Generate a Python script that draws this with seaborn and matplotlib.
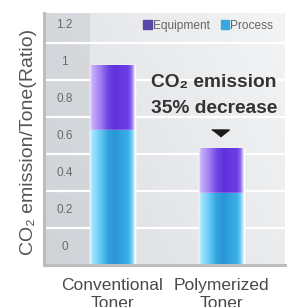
import numpy as np
import pandas as pd
import matplotlib
matplotlib.use("Agg")
import matplotlib.pyplot as plt
import matplotlib.transforms as mtransforms
from matplotlib.colors import LinearSegmentedColormap, to_rgb
from matplotlib.patches import Patch
import seaborn as sns

# values
categories = ["Conventional\nToner", "Polymerized\nToner"]
process = [0.73, 0.39]
equipment = [0.35, 0.24]
totals = [p + e for p, e in zip(process, equipment)]
y_values = [0, 0.2, 0.4, 0.6, 0.8, 1.0, 1.2]
y_labels = ["0", "0.2", "0.4", "0.6", "0.8", "1", "1.2"]
note_lines = ["CO₂ emission", "35% decrease"]

sns.set_style("white")
plt.rcParams['font.family'] = ['Liberation Sans', 'DejaVu Sans']

fig = plt.figure(figsize=(2.91, 3.07), dpi=100)
ax = fig.add_axes([44 / 291, 42 / 307, 241 / 291, 252 / 307])

df = pd.DataFrame({"cat": categories, "process": process, "total": totals})

# stacked look: totals first (equipment colour), process drawn over
sns.barplot(data=df, x="cat", y="total", color="#6633dd", saturation=1,
            width=0.41, errorbar=None, zorder=2, ax=ax)
n_eq = len(ax.patches)
sns.barplot(data=df, x="cat", y="process", color="#33aae6", saturation=1,
            width=0.41, errorbar=None, zorder=3, ax=ax)

purple = LinearSegmentedColormap.from_list("eq", [
    (0, "#efe6ff"), (0.04, "#c8b0fa"), (0.22, "#a282f3"), (0.4, "#7046e5"),
    (0.55, "#6130dc"), (0.85, "#6b3ee5"), (0.93, "#8d6bee"), (1, "#f0eaff")])
blue = LinearSegmentedColormap.from_list("pr", [
    (0, "#e2f7ff"), (0.04, "#a8e6fb"), (0.22, "#66cbf4"), (0.4, "#31a2de"),
    (0.55, "#2a96d5"), (0.85, "#3ab0ea"), (0.93, "#6dcbf3"), (1, "#e4f7ff")])
grad = np.linspace(0, 1, 200).reshape(1, -1)
for i, bar in enumerate(list(ax.patches)):
    cmap = purple if i < n_eq else blue
    x0, y0 = bar.get_x(), bar.get_y()
    w, h = bar.get_width(), bar.get_height()
    im = ax.imshow(grad, cmap=cmap, extent=[x0, x0 + w, y0, y0 + h],
                   aspect='auto', interpolation='bilinear',
                   zorder=bar.get_zorder() + 0.1)
    im.set_clip_path(bar)

# panel background
xx, yy = np.meshgrid(np.linspace(0, 1, 100), np.linspace(0, 1, 100))
t = (0.65 * xx + 0.35 * yy)[..., None]
c0, c1 = np.array(to_rgb("#dadde1")), np.array(to_rgb("#f3f4f5"))
ax.imshow(c0 + (c1 - c0) * t, extent=[0, 1, 0, 1], transform=ax.transAxes,
          origin='lower', aspect='auto', zorder=0)
ax.axvspan(-1, -0.207, color="#c4c8cd", alpha=0.45, lw=0, zorder=0.5)

for v in y_values[1:]:
    ax.axhline(v, color="white", lw=1.6, zorder=1)

trans = mtransforms.blended_transform_factory(ax.transAxes, ax.transData)
for v, lab in zip(y_values, y_labels):
    ax.text(0.085, v + 0.095, lab, transform=trans, ha='center', va='center',
            fontsize=8.5, color="#6a6a6a", zorder=5)

# callout over the polymerized bar
ax.text(0.93, totals[1] + 0.357, note_lines[0], ha='center', va='center',
        fontsize=13.8, fontweight='bold', color="#333333", zorder=5)
ax.text(0.93, totals[1] + 0.215, note_lines[1], ha='center', va='center',
        fontsize=13.8, fontweight='bold', color="#333333", zorder=5)
tri = [(-1, 0.4), (1, 0.4), (0, -0.4)]
ax.plot([0.99], [totals[1] + 0.085], marker=tri, ms=12.6, color="#1a1a1a",
        lw=0, zorder=5)

handles = [Patch(color="#5a46a8", label="Equipment"),
           Patch(color="#3aa8e0", label="Process")]
ax.legend(handles=handles, loc='center right', bbox_to_anchor=(0.95, 0.9496),
          ncol=2, frameon=False, fontsize=8.6, handlelength=0.75,
          handleheight=0.75, handletextpad=0.05, columnspacing=0.9,
          borderpad=0, borderaxespad=0, labelcolor="#666666")

for s in ['top', 'right']:
    ax.spines[s].set_visible(False)
for s in ['left', 'bottom']:
    ax.spines[s].set_color("#bdbdbd")
    ax.spines[s].set_linewidth(2.2)
    ax.spines[s].set_zorder(4)

ax.set_xlabel("")
ax.set_yticks([])
ax.tick_params(axis='x', length=0, pad=9.5, labelsize=12.5, labelcolor="#4a4a4a")
for lab in ax.get_xticklabels():
    lab.set_linespacing(1.2)
ax.set_ylabel("CO₂ emission/Tone(Ratio)", fontsize=14, color="#555555")
ax.yaxis.set_label_coords(-0.029, 0.49)

ax.set_xlim(-0.629, 1.584)
ax.set_ylim(0, 1.362)

fig.savefig("out.png", dpi=100)
